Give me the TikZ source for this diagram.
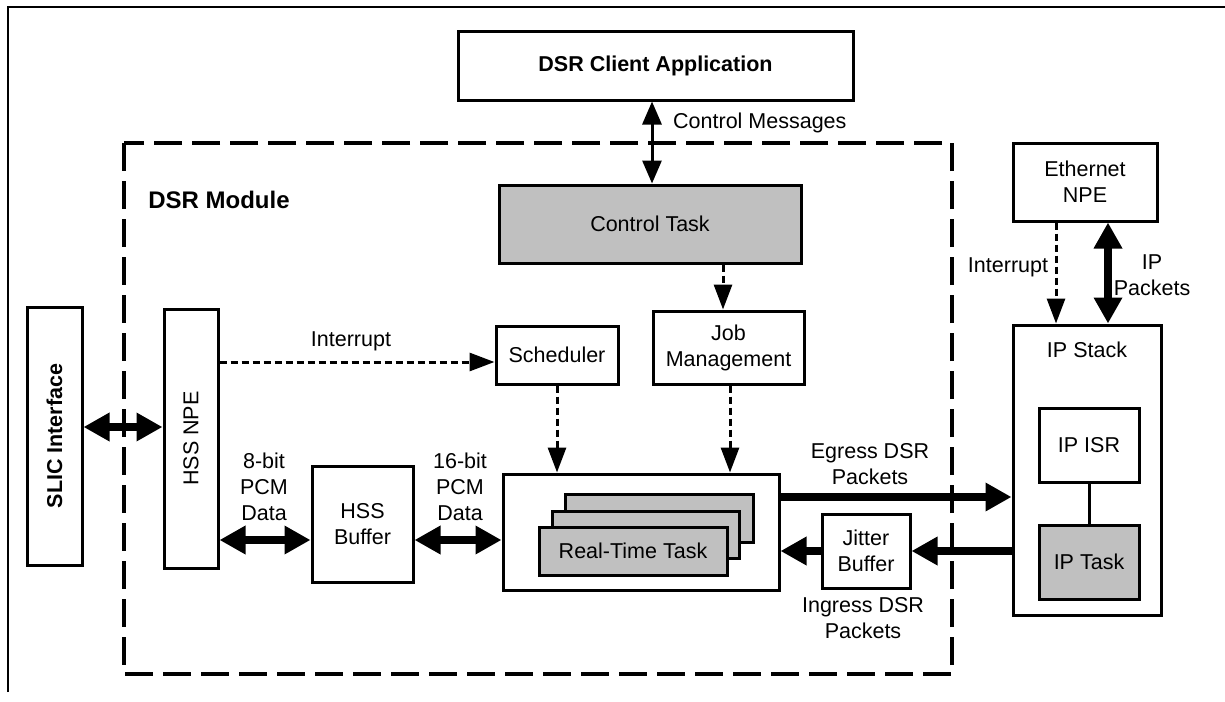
\documentclass[tikz,border=0pt]{standalone}
\usepackage{fontspec}
\setmainfont{Liberation Sans}
\usepackage{graphicx}
\usetikzlibrary{arrows.meta,calc}
\definecolor{boxgray}{RGB}{192,192,192}
\begin{document}
\begin{tikzpicture}[x=1pt,y=-1pt,
  txt/.style={font=\fontsize{21.5}{26}\selectfont},
  box/.style={draw, line width=3pt, inner sep=2pt, align=center, txt},
  graybox/.style={box, fill=boxgray},
  lbl/.style={align=center, inner sep=0pt, txt},
  dasharrow/.style={line width=3pt, dash pattern=on 7pt off 4pt, -{Triangle[length=25pt,width=18pt]}},
  thickboth/.style={line width=8pt, {Triangle[length=26pt,width=27pt]}-{Triangle[length=26pt,width=27pt]}},
  thickone/.style={line width=8pt, -{Triangle[length=26pt,width=27pt]}},
  msgarrow/.style={line width=3pt, {Triangle[length=23pt,width=19pt]}-{Triangle[length=23pt,width=19pt]}}
]
\useasboundingbox (0,0) rectangle (1225,701);
% outer frame (top and left)
\draw[line width=2pt] (8,692) -- (8,7) -- (1225,7);
% DSR module dashed frame
\draw[line width=4pt, dash pattern=on 28pt off 10pt] (124,143) rectangle (952,674);
\node[lbl, font=\fontsize{24}{28}\selectfont\bfseries] (modlbl) at (219,200) {DSR Module};

% nodes
\node[box, minimum width=395pt, minimum height=68pt, font=\fontsize{21.5}{26}\selectfont\bfseries] (client) at (655.5,66) {DSR Client Application};
\node[graybox, minimum width=302pt, minimum height=78pt] (ctrl) at (650,224) {Control Task};
\node[box, minimum width=151pt, minimum height=73pt] (job) at (728.5,347.5) {Job\\Management};
\node[box, minimum width=122pt, minimum height=58pt] (sched) at (557,355) {Scheduler};
\node[box, minimum width=54pt, minimum height=259pt] (hssnpe) at (191,438.5) {\rotatebox{90}{HSS NPE}};
\node[box, minimum width=55pt, minimum height=258pt, font=\fontsize{21.5}{26}\selectfont\bfseries] (slic) at (54.5,436) {\rotatebox{90}{SLIC Interface}};
\node[box, minimum width=101pt, minimum height=116pt] (hssbuf) at (362.5,524) {HSS\\Buffer};
\node[box, minimum width=276pt, minimum height=116pt] (rt) at (641,532) {};
\node[graybox, minimum width=188pt, minimum height=48pt] (rt3) at (659,518) {};
\node[graybox, minimum width=187pt, minimum height=47pt] (rt2) at (645.5,534.5) {};
\node[graybox, minimum width=188pt, minimum height=48pt] (rt1) at (633,551) {Real-Time Task};
\node[box, minimum width=88pt, minimum height=74pt] (jitter) at (866,551) {Jitter\\Buffer};
\node[box, minimum width=148pt, minimum height=290pt] (ipstack) at (1087,470) {};
\node[lbl] (ipstacklbl) at (1087,350) {IP Stack};
\node[box, minimum width=100pt, minimum height=74pt] (ipisr) at (1089,445) {IP ISR};
\node[graybox, minimum width=100pt, minimum height=74pt] (iptask) at (1089,562) {IP Task};
\node[box, minimum width=144pt, minimum height=78pt] (eth) at (1085,182) {Ethernet\\NPE};

% labels
\node[lbl, anchor=west] (ctrlmsg) at (673,123) {Control Messages};
\node[lbl] (intl) at (351,341) {Interrupt};
\node[lbl] (pcm8) at (264,487) {8-bit\\PCM\\Data};
\node[lbl] (pcm16) at (460,487) {16-bit\\PCM\\Data};
\node[lbl] (egress) at (870,464) {Egress DSR\\Packets};
\node[lbl] (ingress) at (863,618) {Ingress DSR\\Packets};
\node[lbl] (intr) at (1008,267) {Interrupt};
\node[lbl] (ippk) at (1152,275) {IP\\Packets};

% connector end points
\coordinate (cmA) at ($(client.south)+(-3.5,0)$);
\coordinate (jmA) at ($(job.north)+(-5.5,0)$);
\coordinate (scA) at ($(sched.west)+(0,7)$);
\coordinate (jmB) at ($(job.south)+(1.5,0)$);
\coordinate (slA) at ($(slic.east)+(0,-9)$);
\coordinate (hbA) at ($(hssbuf.west)+(0,16)$);
\coordinate (hbB) at ($(hssbuf.east)+(0,16)$);
\coordinate (rtA) at ($(rt.east)+(0,-35)$);
\coordinate (etA) at ($(eth.south)+(-29,0)$);
\coordinate (etB) at ($(eth.south)+(23,0)$);

% connectors
\draw[msgarrow] (cmA) -- (cmA |- ctrl.north);
\draw[dasharrow] (jmA |- ctrl.south) -- (jmA);
\draw[dasharrow] (scA -| hssnpe.east) -- (scA);
\draw[dasharrow] (sched.south) -- (sched.south |- rt.north);
\draw[dasharrow] (jmB) -- (jmB |- rt.north);
\draw[thickboth] (slA) -- (slA -| hssnpe.west);
\draw[thickboth] (hbA -| hssnpe.east) -- (hbA);
\draw[thickboth] (hbB) -- (hbB -| rt.west);
\draw[thickone] (rtA) -- (rtA -| ipstack.west);
\draw[thickone] (jitter.east -| ipstack.west) -- (jitter.east);
\draw[thickone] (jitter.west) -- (jitter.west -| rt.east);
\draw[line width=3pt] (ipisr.south) -- (iptask.north);
\draw[dasharrow] (etA) -- (etA |- ipstack.north);
\draw[thickboth] (etB) -- (etB |- ipstack.north);
\end{tikzpicture}
\end{document}
